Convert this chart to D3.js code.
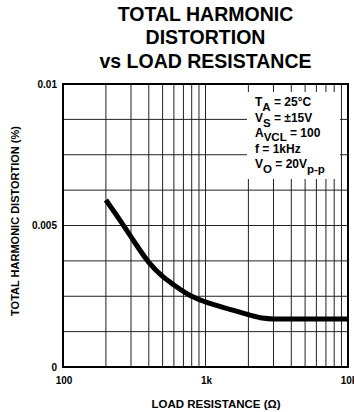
<!DOCTYPE html>
<html><head><meta charset="utf-8">
<script src="https://cdn.jsdelivr.net/npm/d3@7"></script>
<style>
html,body{margin:0;padding:0;background:#fff;}
svg{display:block;font-family:"Liberation Sans",Arial,Helvetica,sans-serif;}
</style></head>
<body><svg id="c" width="354" height="412"></svg>
<script>
const resistance = [200, 250, 300, 400, 500, 600, 800, 1000, 1500, 2000, 2500, 3000, 5000, 10000];
const thd = [0.0059, 0.0052, 0.0046, 0.0037, 0.0032, 0.0029, 0.0025, 0.0023, 0.00203, 0.00185, 0.00173, 0.0017, 0.0017, 0.0017];
const xTickValues = [100, 1000, 10000];
const xTickLabels = ["100", "1k", "10k"];
const yTickValues = [0, 0.005, 0.01];
const yTickLabels = ["0", "0.005", "0.01"];
const xGrid = [200,300,400,500,600,700,800,900,1000,2000,3000,4000,5000,6000,7000,8000,9000];
const yGrid = [0.00125,0.0025,0.00375,0.005,0.00625,0.0075,0.00875];
const titleLines = ["TOTAL HARMONIC", "DISTORTION", "vs LOAD RESISTANCE"];

const svg = d3.select("#c");
const L = 63, R = 348, T = 84, B = 367;
const x = d3.scaleLog().domain([100, 10000]).range([L, R]);
const y = d3.scaleLinear().domain([0, 0.01]).range([B, T]);

// title
const tb = [21, 44.3, 67.7];
titleLines.forEach((t, i) => {
  svg.append("text").attr("x", 205.5).attr("y", tb[i]).attr("text-anchor", "middle")
    .attr("font-size", 19.5).attr("font-weight", "bold").attr("fill", "#000").text(t);
});

// grid
const g = svg.append("g");
g.selectAll(".vx").data(xGrid).enter().append("line")
  .attr("x1", d => x(d)).attr("x2", d => x(d)).attr("y1", T).attr("y2", B)
  .attr("stroke", "#222").attr("stroke-width", 1);
g.selectAll(".hy").data(yGrid).enter().append("line")
  .attr("x1", L).attr("x2", R).attr("y1", d => y(d)).attr("y2", d => y(d))
  .attr("stroke", "#222").attr("stroke-width", 1);

// annotation box background
svg.append("rect").attr("x", 247).attr("y", 92).attr("width", 93).attr("height", 87).attr("fill", "#fff");

// border
svg.append("rect").attr("x", L).attr("y", T).attr("width", R - L).attr("height", B - T)
  .attr("fill", "none").attr("stroke", "#000").attr("stroke-width", 2);

// curve
const line = d3.line().x((d, i) => x(resistance[i])).y(d => y(d)).curve(d3.curveMonotoneX);
svg.append("path").attr("d", line(thd)).attr("fill", "none").attr("stroke", "#000")
  .attr("stroke-width", 5);

// y tick labels
yTickValues.forEach((v, i) => {
  svg.append("text").attr("x", 57).attr("y", y(v) + 3.5).attr("text-anchor", "end")
    .attr("font-size", 10).attr("font-weight", "bold").text(yTickLabels[i]);
});
// x tick labels
xTickValues.forEach((v, i) => {
  svg.append("text").attr("x", x(v) + 1).attr("y", 384).attr("text-anchor", "middle")
    .attr("font-size", 10).attr("font-weight", "bold").text(xTickLabels[i]);
});

// axis titles
svg.append("text").attr("x", 216).attr("y", 408).attr("text-anchor", "middle")
  .attr("font-size", 11.5).attr("font-weight", "bold").text("LOAD RESISTANCE (Ω)");
svg.append("text").attr("transform", "translate(19,221) rotate(-90)").attr("text-anchor", "middle")
  .attr("font-size", 11).attr("font-weight", "bold").text("TOTAL HARMONIC DISTORTION (%)");

// annotation
const ann = [
  {b: 106.3, m: "T", s: "A", r: " = 25°C", d: 4.5},
  {b: 122, m: "V", s: "S", r: " = ±15V", d: 4.5},
  {b: 137, m: "A", s: "VCL", r: " = 100", d: 3.5},
  {b: 153, m: "f = 1kHz", s: "", r: "", d: 0},
  {b: 168, m: "V", s: "O", r: " = 20V", s2: "p-p", d: 4.5}
];
ann.forEach(a => {
  const t = svg.append("text").attr("x", 255).attr("y", a.b).attr("font-size", 12).attr("font-weight", "bold");
  t.append("tspan").text(a.m);
  if (a.s) t.append("tspan").attr("dy", a.d).attr("font-size", 11.5).text(a.s);
  if (a.r) t.append("tspan").attr("dy", a.s ? -a.d : 0).text(a.r);
  if (a.s2) t.append("tspan").attr("dy", a.d).attr("font-size", 11.5).text(a.s2);
});
</script></body></html>
